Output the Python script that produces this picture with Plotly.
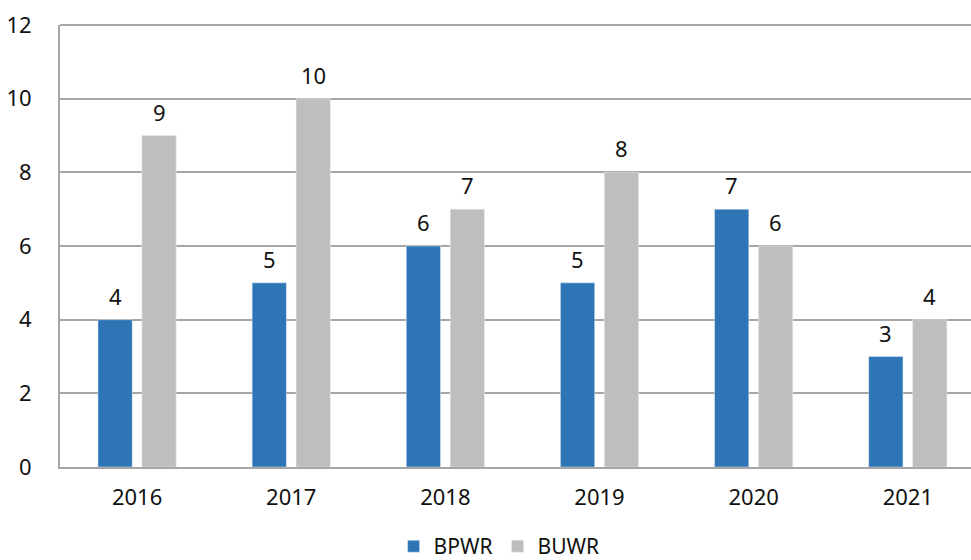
import plotly.graph_objects as go

years = ["2016", "2017", "2018", "2019", "2020", "2021"]
bpwr = [4, 5, 6, 5, 7, 3]
buwr = [9, 10, 7, 8, 6, 4]
y_ticks = [0, 2, 4, 6, 8, 10, 12]

FONT = "Noto Sans, Open Sans, sans-serif"
BLUE = "#2E75B6"
GRAY = "#BEBEBE"
AXIS = "#A6A6A6"

fig = go.Figure()
fig.add_trace(go.Bar(name="BPWR", x=years, y=bpwr, marker_color=BLUE))
fig.add_trace(go.Bar(name="BUWR", x=years, y=buwr, marker_color=GRAY))

# data labels above bars (x given as category index)
for series, shift in ((bpwr, -22), (buwr, 22)):
    for i, v in enumerate(series):
        fig.add_annotation(x=i, y=v, text=str(v), showarrow=False,
                           xshift=shift, yshift=24, yanchor="middle",
                           font=dict(size=22, color="#111111"))

fig.update_layout(
    width=971, height=560,
    margin=dict(l=60, r=0, t=25, b=93, autoexpand=False),
    paper_bgcolor="white", plot_bgcolor="white",
    font=dict(family=FONT, size=22, color="#111111"),
    barmode="group", bargap=0.43, bargroupgap=0.22,
    legend=dict(orientation="h", x=0.482, xanchor="center", y=-0.18, yanchor="middle",
                font=dict(size=21), itemwidth=30, traceorder="normal",
                tracegroupgap=0),
    xaxis=dict(type="category", showline=True, linecolor=AXIS, linewidth=2, ticks="",
               tickfont=dict(size=22), automargin=False, ticklabelstandoff=10,
               range=[-0.5, 5.41]),
    yaxis=dict(range=[0, 12], tickvals=y_ticks, showgrid=True, gridcolor=AXIS,
               gridwidth=2, showline=True, linecolor=AXIS, linewidth=2,
               zeroline=False, ticks="", ticklabelstandoff=22, tickfont=dict(size=22),
               automargin=False),
)
fig.add_shape(type="line", xref="paper", yref="paper", x0=0, x1=1, y0=1, y1=1,
              line=dict(color=AXIS, width=2))

fig.write_html("out.html", config={"displayModeBar": False},
               post_script="document.body.style.margin='0';")
